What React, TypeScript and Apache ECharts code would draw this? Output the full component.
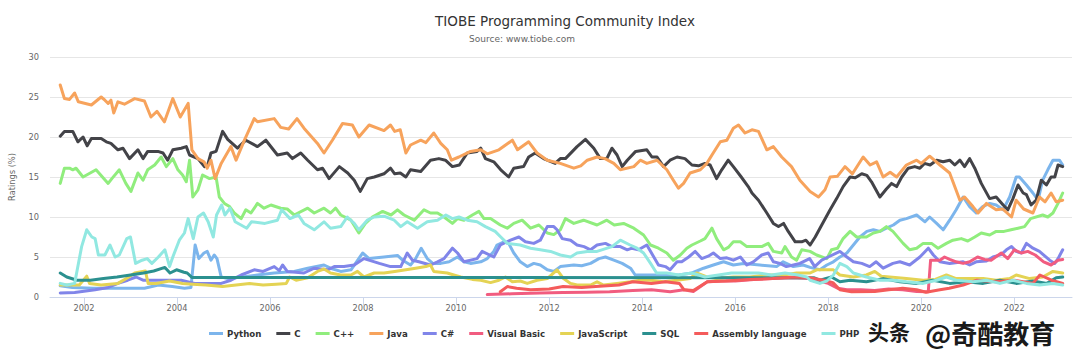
import React, { useEffect, useRef } from "react";
import * as echarts from "echarts";

const seriesNames = ["Python", "C", "C++", "Java", "C#", "Visual Basic", "JavaScript", "SQL", "Assembly language", "PHP"];
const colors = ["#7cb5ec", "#434348", "#90ed7d", "#f7a35c", "#8085e9", "#f15c80", "#e4d354", "#2b908f", "#f45b5b", "#91e8e1"];
const yearTicks = [2002, 2004, 2006, 2008, 2010, 2012, 2014, 2016, 2018, 2020, 2022];
const ratingTicks = [0, 5, 10, 15, 20, 25, 30];

const python: [number, number][] = [[2001.49,1.4],[2001.75,1.2],[2002.2,1.1],[2002.9,1.1],[2003.3,1.1],[2003.6,1.5],[2003.9,1.3],[2004.16,1.1],[2004.30,1.2],[2004.39,6.5],[2004.47,4.8],[2004.58,5.5],[2004.65,5.7],[2004.73,4.6],[2004.80,5.25],[2004.86,4.8],[2004.95,2.5],[2005.1,2.3],[2005.4,2.5],[2005.73,2.75],[2006.09,3.0],[2006.52,3.2],[2006.81,3.6],[2007.16,4.0],[2007.30,3.6],[2007.52,3.2],[2007.74,3.4],[2007.86,4.4],[2007.99,5.5],[2008.13,4.8],[2008.45,5.0],[2008.74,5.2],[2008.85,4.6],[2009.02,4.0],[2009.13,4.8],[2009.25,6.1],[2009.38,4.8],[2009.50,4.2],[2009.67,4.2],[2009.85,4.4],[2010.03,5.0],[2010.17,4.4],[2010.31,4.2],[2010.53,4.4],[2010.67,4.8],[2010.81,5.7],[2010.88,6.5],[2011.03,6.9],[2011.13,6.7],[2011.24,5.5],[2011.38,4.4],[2011.53,3.8],[2011.67,4.2],[2011.81,4.0],[2011.96,3.4],[2012.10,3.2],[2012.24,3.8],[2012.53,4.0],[2012.70,3.9],[2012.89,4.2],[2013.07,4.8],[2013.21,5.0],[2013.39,4.6],[2013.57,4.2],[2013.75,3.6],[2013.85,2.75],[2014.10,2.75],[2014.50,2.75],[2014.78,2.75],[2015.07,3.0],[2015.32,3.6],[2015.53,4.0],[2015.75,4.4],[2015.96,4.0],[2016.18,4.2],[2016.53,4.0],[2016.89,3.8],[2017.03,4.4],[2017.25,3.8],[2017.46,4.0],[2017.61,3.7],[2017.82,3.4],[2017.97,4.0],[2018.11,4.4],[2018.25,5.0],[2018.40,5.5],[2018.54,6.5],[2018.68,7.5],[2018.83,8.2],[2018.97,8.4],[2019.11,8.2],[2019.25,8.6],[2019.40,9.0],[2019.54,9.6],[2019.68,9.8],[2019.90,10.25],[2020.08,9.4],[2020.18,10.0],[2020.33,9.2],[2020.47,8.4],[2020.61,9.6],[2020.75,10.9],[2020.90,12.5],[2021.04,11.3],[2021.18,10.5],[2021.32,11.3],[2021.47,11.7],[2021.61,11.5],[2021.76,10.9],[2021.90,12.5],[2022.04,15.0],[2022.11,15.0],[2022.26,14.0],[2022.40,13.0],[2022.51,12.1],[2022.61,14.6],[2022.72,15.9],[2022.83,17.1],[2022.97,17.1],[2023.04,16.5]];

const cLang: [number, number][] = [[2001.49,20.1],[2001.58,20.7],[2001.76,20.7],[2001.87,19.4],[2001.98,20.0],[2002.07,18.9],[2002.16,19.8],[2002.37,19.8],[2002.48,19.4],[2002.58,19.2],[2002.73,18.4],[2002.84,18.6],[2002.98,17.3],[2003.16,18.4],[2003.27,17.3],[2003.37,18.2],[2003.59,18.2],[2003.70,18.0],[2003.80,17.1],[2003.91,18.4],[2004.09,18.6],[2004.20,18.8],[2004.27,17.75],[2004.45,17.3],[2004.59,16.3],[2004.66,16.5],[2004.73,18.0],[2004.84,18.2],[2004.98,20.7],[2005.09,19.7],[2005.30,18.6],[2005.48,19.6],[2005.73,18.8],[2005.91,19.6],[2006.16,17.75],[2006.37,18.0],[2006.48,17.3],[2006.66,18.0],[2006.81,17.1],[2007.02,15.9],[2007.13,16.1],[2007.27,14.8],[2007.49,16.3],[2007.67,15.5],[2007.81,14.6],[2007.94,13.2],[2008.09,14.8],[2008.24,15.0],[2008.45,15.4],[2008.59,16.1],[2008.68,15.4],[2008.80,15.5],[2008.92,15.0],[2009.02,15.9],[2009.24,15.7],[2009.45,17.1],[2009.63,17.3],[2009.77,17.1],[2009.92,16.3],[2010.07,16.5],[2010.24,18.0],[2010.45,18.2],[2010.53,18.6],[2010.63,17.3],[2010.81,16.9],[2010.96,15.9],[2011.13,15.0],[2011.24,16.1],[2011.45,16.3],[2011.56,17.5],[2011.70,18.0],[2011.88,17.3],[2012.13,16.7],[2012.24,17.3],[2012.35,17.3],[2012.60,18.8],[2012.78,19.7],[2012.96,18.6],[2013.10,17.3],[2013.24,17.3],[2013.35,18.6],[2013.46,17.75],[2013.57,16.3],[2013.68,17.1],[2013.86,18.2],[2014.10,18.4],[2014.21,17.5],[2014.32,17.5],[2014.46,16.3],[2014.60,17.1],[2014.75,17.5],[2014.92,17.3],[2015.07,16.5],[2015.21,16.4],[2015.35,16.7],[2015.46,16.5],[2015.60,14.8],[2015.71,15.9],[2015.85,17.1],[2015.96,16.3],[2016.13,15.0],[2016.28,13.8],[2016.36,13.0],[2016.50,12.1],[2016.68,10.5],[2016.82,9.2],[2016.93,8.8],[2017.04,9.2],[2017.14,8.2],[2017.29,6.9],[2017.43,6.9],[2017.52,7.1],[2017.61,6.5],[2017.72,7.5],[2017.86,9.0],[2018.04,10.9],[2018.18,12.3],[2018.32,13.8],[2018.47,15.0],[2018.58,14.9],[2018.72,15.4],[2018.83,15.2],[2018.93,14.4],[2019.11,12.5],[2019.25,13.5],[2019.36,14.2],[2019.47,13.8],[2019.58,15.0],[2019.72,16.1],[2019.86,16.3],[2019.97,16.1],[2020.07,16.7],[2020.19,16.5],[2020.33,17.1],[2020.47,16.9],[2020.61,17.1],[2020.72,16.5],[2020.83,17.1],[2020.93,16.3],[2021.04,17.3],[2021.15,16.1],[2021.29,14.2],[2021.47,12.3],[2021.61,12.5],[2021.76,11.5],[2021.86,10.9],[2021.97,12.3],[2022.08,14.0],[2022.19,13.0],[2022.26,12.8],[2022.36,11.5],[2022.47,12.1],[2022.58,14.6],[2022.69,14.0],[2022.79,15.0],[2022.87,15.0],[2022.94,16.5],[2023.04,16.3]];

const cpp: [number, number][] = [[2001.49,14.2],[2001.58,16.1],[2001.69,16.1],[2001.76,15.9],[2001.83,16.1],[2001.98,15.0],[2002.26,15.9],[2002.52,14.2],[2002.60,14.8],[2002.76,15.9],[2002.90,14.2],[2003.01,13.2],[2003.16,15.5],[2003.27,14.6],[2003.37,15.9],[2003.52,16.5],[2003.66,17.5],[2003.77,16.3],[2003.91,17.3],[2004.02,15.9],[2004.12,15.25],[2004.20,14.4],[2004.27,17.1],[2004.34,12.5],[2004.45,13.4],[2004.55,15.25],[2004.70,14.8],[2004.84,15.0],[2004.91,12.5],[2005.02,11.7],[2005.13,11.3],[2005.23,10.5],[2005.38,9.8],[2005.48,10.9],[2005.59,10.5],[2005.73,11.7],[2005.87,11.1],[2006.02,11.5],[2006.23,11.1],[2006.37,11.0],[2006.52,10.25],[2006.81,11.1],[2006.95,10.5],[2007.16,11.1],[2007.30,10.5],[2007.41,11.1],[2007.52,10.25],[2007.74,9.6],[2007.91,8.0],[2008.05,9.2],[2008.20,10.0],[2008.42,10.7],[2008.60,10.25],[2008.74,10.9],[2008.88,10.25],[2009.10,9.6],[2009.31,10.9],[2009.45,10.5],[2009.60,10.5],[2009.74,10.0],[2009.92,9.2],[2010.03,9.8],[2010.17,9.6],[2010.35,10.25],[2010.49,10.7],[2010.60,9.8],[2010.74,9.8],[2010.95,9.0],[2011.10,8.6],[2011.24,9.2],[2011.42,9.6],[2011.60,8.6],[2011.78,9.0],[2011.96,8.0],[2012.10,7.8],[2012.24,8.4],[2012.35,9.8],[2012.53,9.2],[2012.74,9.6],[2013.03,9.0],[2013.24,9.6],[2013.40,9.0],[2013.60,9.2],[2013.82,8.6],[2014.03,7.75],[2014.18,6.5],[2014.35,6.1],[2014.53,5.5],[2014.67,4.6],[2014.82,5.25],[2014.96,6.1],[2015.07,6.5],[2015.25,7.0],[2015.35,7.3],[2015.50,8.6],[2015.60,7.3],[2015.75,5.9],[2015.85,6.2],[2015.96,6.9],[2016.11,6.9],[2016.25,6.3],[2016.39,6.3],[2016.57,6.3],[2016.71,6.7],[2016.82,5.7],[2017.00,5.5],[2017.07,6.3],[2017.21,5.0],[2017.32,4.6],[2017.43,5.9],[2017.61,5.7],[2017.75,5.25],[2017.97,4.8],[2018.07,5.9],[2018.20,6.1],[2018.32,7.3],[2018.47,8.2],[2018.61,7.5],[2018.82,7.5],[2018.97,8.0],[2019.11,8.2],[2019.25,8.8],[2019.39,8.2],[2019.61,6.7],[2019.75,5.9],[2019.90,6.1],[2020.04,6.7],[2020.22,6.7],[2020.36,6.1],[2020.54,6.7],[2020.68,7.1],[2020.86,7.3],[2021.00,7.0],[2021.15,7.5],[2021.29,8.0],[2021.47,7.75],[2021.61,8.2],[2021.78,8.2],[2021.93,8.4],[2022.08,8.6],[2022.22,8.8],[2022.35,9.8],[2022.61,10.25],[2022.72,10.0],[2022.83,10.5],[2022.94,11.7],[2023.04,13.0]];

const java: [number, number][] = [[2001.49,26.5],[2001.58,24.8],[2001.69,24.7],[2001.80,25.5],[2001.88,24.4],[2002.16,24.0],[2002.37,25.0],[2002.45,24.6],[2002.52,24.2],[2002.58,24.6],[2002.64,23.0],[2002.73,24.4],[2002.87,24.1],[2003.09,24.8],[2003.30,24.5],[2003.44,22.5],[2003.57,23.2],[2003.73,21.9],[2003.91,24.8],[2004.07,22.5],[2004.24,24.2],[2004.32,18.4],[2004.45,17.3],[2004.58,16.9],[2004.65,16.1],[2004.73,17.1],[2004.82,14.8],[2004.95,16.7],[2005.16,18.8],[2005.27,17.1],[2005.45,19.6],[2005.66,22.3],[2005.73,21.9],[2006.09,22.3],[2006.23,21.2],[2006.40,21.0],[2006.58,22.3],[2006.73,21.1],[2007.02,19.2],[2007.16,18.0],[2007.34,19.6],[2007.56,21.7],[2007.77,21.5],[2007.91,20.0],[2008.13,21.5],[2008.45,20.8],[2008.59,21.5],[2008.68,20.7],[2008.80,20.9],[2008.92,18.0],[2009.02,19.0],[2009.24,19.6],[2009.35,19.3],[2009.52,20.5],[2009.67,19.2],[2009.81,18.4],[2009.90,17.1],[2010.06,17.5],[2010.31,18.2],[2010.53,18.4],[2010.67,17.9],[2010.92,18.4],[2011.21,19.6],[2011.32,18.4],[2011.56,19.4],[2011.74,18.0],[2011.96,17.1],[2012.24,16.7],[2012.53,16.1],[2012.68,16.4],[2012.82,17.1],[2013.03,17.5],[2013.20,17.3],[2013.39,16.7],[2013.53,15.9],[2013.82,16.3],[2013.96,17.1],[2014.10,16.7],[2014.32,17.1],[2014.53,15.9],[2014.67,14.6],[2014.78,13.6],[2014.89,14.2],[2015.03,15.5],[2015.25,15.9],[2015.39,16.7],[2015.50,17.75],[2015.68,19.4],[2015.82,19.6],[2015.96,21.1],[2016.07,21.5],[2016.21,20.5],[2016.36,20.9],[2016.50,20.7],[2016.68,18.4],[2016.82,18.8],[2017.00,17.5],[2017.21,16.3],[2017.39,14.6],[2017.61,13.2],[2017.79,12.5],[2017.93,13.4],[2018.04,15.0],[2018.20,15.1],[2018.36,16.3],[2018.52,15.4],[2018.75,17.5],[2018.90,16.5],[2019.04,16.9],[2019.18,15.0],[2019.33,15.6],[2019.47,15.0],[2019.68,16.5],[2019.90,17.1],[2020.00,16.7],[2020.18,17.6],[2020.40,16.5],[2020.61,15.5],[2020.83,12.1],[2020.93,12.5],[2021.11,11.3],[2021.22,10.5],[2021.40,11.7],[2021.61,10.9],[2021.75,11.0],[2021.94,10.0],[2022.04,12.1],[2022.20,11.0],[2022.40,10.5],[2022.54,12.5],[2022.66,11.9],[2022.79,13.0],[2022.90,11.9],[2023.04,12.1]];

const csharp: [number, number][] = [[2001.49,0.5],[2001.80,0.55],[2002.24,0.9],[2002.52,1.2],[2002.73,1.7],[2002.94,2.1],[2003.12,2.5],[2003.27,2.1],[2003.80,2.1],[2004.09,2.1],[2004.38,1.7],[2004.95,1.7],[2005.16,2.1],[2005.38,2.75],[2005.66,3.4],[2005.85,3.2],[2006.09,3.8],[2006.20,3.3],[2006.27,4.0],[2006.37,3.2],[2006.73,3.0],[2006.95,3.6],[2007.24,3.4],[2007.38,3.8],[2007.59,3.8],[2007.81,4.0],[2008.02,4.8],[2008.35,4.2],[2008.59,3.8],[2008.81,3.8],[2008.95,5.5],[2009.06,4.6],[2009.20,4.4],[2009.45,4.0],[2009.60,4.4],[2009.74,4.8],[2009.92,6.1],[2010.03,5.5],[2010.17,4.4],[2010.45,4.8],[2010.56,5.7],[2010.81,5.0],[2010.95,6.5],[2011.17,7.1],[2011.35,7.5],[2011.49,6.9],[2011.67,6.7],[2011.81,7.1],[2011.96,8.8],[2012.10,8.8],[2012.17,8.4],[2012.28,7.3],[2012.46,7.1],[2012.60,6.5],[2012.75,6.3],[2012.89,5.9],[2013.03,6.5],[2013.21,6.7],[2013.35,6.3],[2013.53,6.3],[2013.68,5.9],[2013.78,6.1],[2013.92,5.9],[2014.10,6.5],[2014.25,5.0],[2014.35,4.0],[2014.50,3.8],[2014.60,3.4],[2014.75,4.4],[2014.85,4.4],[2015.00,5.0],[2015.14,5.7],[2015.28,4.8],[2015.42,5.1],[2015.53,5.5],[2015.68,4.8],[2015.82,4.9],[2015.96,4.6],[2016.11,5.0],[2016.25,4.0],[2016.39,4.4],[2016.57,5.25],[2016.71,5.5],[2016.82,4.4],[2016.96,4.2],[2017.10,3.8],[2017.25,4.0],[2017.39,4.2],[2017.60,4.8],[2017.71,3.8],[2017.86,4.6],[2018.00,5.0],[2018.25,5.7],[2018.40,5.0],[2018.54,4.4],[2018.72,4.2],[2018.89,3.8],[2019.03,4.4],[2019.18,3.6],[2019.39,4.2],[2019.54,4.4],[2019.75,4.0],[2019.97,5.0],[2020.15,6.1],[2020.26,5.25],[2020.40,4.4],[2020.61,4.2],[2020.90,4.4],[2021.04,4.0],[2021.18,4.4],[2021.40,4.5],[2021.54,5.0],[2021.72,5.3],[2021.83,5.9],[2021.94,6.3],[2022.04,5.7],[2022.15,5.5],[2022.26,6.7],[2022.40,6.1],[2022.54,5.7],[2022.76,4.6],[2022.87,4.2],[2022.94,4.8],[2023.04,5.9]];

const visualBasic: [number, number][] = [[2010.67,0.3],[2011.2,0.4],[2011.8,0.5],[2012.3,0.55],[2012.8,0.6],[2013.3,0.65],[2013.8,0.8],[2014.2,0.9],[2014.6,0.65],[2014.9,0.9],[2015.1,0.7],[2015.4,1.9],[2015.7,2.0],[2016.0,2.0],[2016.4,2.2],[2016.8,2.3],[2017.2,2.4],[2017.6,2.3],[2017.8,2.0],[2018.0,1.7],[2018.2,1.1],[2018.4,0.9],[2018.7,0.9],[2019.0,0.8],[2019.3,1.0],[2019.6,0.9],[2019.9,0.7],[2020.15,0.65],[2020.2,4.6],[2020.40,4.6],[2020.50,5.0],[2020.61,4.7],[2020.75,4.4],[2020.90,4.2],[2021.04,4.4],[2021.21,5.0],[2021.36,4.7],[2021.50,4.6],[2021.72,5.5],[2021.86,4.8],[2022.00,5.9],[2022.15,5.5],[2022.29,5.7],[2022.45,5.25],[2022.63,4.4],[2022.79,4.0],[2022.94,4.6],[2023.04,4.7]];

const javascript: [number, number][] = [[2001.49,1.5],[2001.90,1.5],[2002.06,2.6],[2002.12,1.7],[2002.37,1.5],[2002.73,1.7],[2002.94,2.4],[2003.09,3.0],[2003.32,3.25],[2003.38,1.7],[2003.55,1.7],[2003.84,2.0],[2004.12,1.7],[2004.34,1.6],[2004.62,1.5],[2004.98,1.3],[2005.27,1.5],[2005.56,1.7],[2005.85,1.5],[2006.13,1.6],[2006.35,1.7],[2006.42,2.5],[2006.56,2.1],[2006.81,2.4],[2007.02,3.2],[2007.16,3.5],[2007.30,3.0],[2007.52,2.75],[2007.74,2.75],[2007.88,3.2],[2008.02,2.5],[2008.24,3.0],[2008.45,3.0],[2008.68,3.2],[2008.92,3.4],[2009.13,3.6],[2009.35,3.8],[2009.45,4.0],[2009.52,3.2],[2009.81,3.0],[2009.95,2.75],[2010.10,2.5],[2010.35,2.2],[2010.53,2.1],[2010.74,1.8],[2010.92,2.1],[2011.06,2.5],[2011.21,1.9],[2011.38,2.0],[2011.53,1.7],[2011.74,2.1],[2011.96,2.3],[2012.17,3.4],[2012.31,2.3],[2012.46,1.7],[2012.60,1.5],[2012.89,1.5],[2013.03,1.9],[2013.17,1.5],[2013.46,1.7],[2013.75,1.9],[2013.96,2.1],[2014.18,2.1],[2014.46,1.9],[2014.75,2.1],[2015.03,2.3],[2015.17,3.0],[2015.39,2.5],[2015.60,2.3],[2015.96,2.5],[2016.32,2.5],[2016.68,2.75],[2017.04,2.75],[2017.32,3.0],[2017.61,3.0],[2017.75,3.4],[2018.11,3.4],[2018.25,2.75],[2018.54,2.5],[2018.82,2.75],[2019.00,3.2],[2019.14,2.6],[2019.32,2.5],[2019.68,2.3],[2020.04,2.1],[2020.30,2.2],[2020.54,2.75],[2020.75,2.3],[2021.04,2.3],[2021.33,2.3],[2021.61,2.1],[2021.90,2.3],[2022.04,2.75],[2022.33,2.3],[2022.61,2.5],[2022.83,3.2],[2023.04,3.0]];

const sql: [number, number][] = [[2001.49,3.0],[2001.63,2.5],[2001.85,2.1],[2002.14,2.1],[2002.42,2.3],[2002.71,2.5],[2003.00,2.75],[2003.28,3.0],[2003.50,3.25],[2003.74,3.7],[2003.85,3.0],[2003.99,3.4],[2004.15,3.1],[2004.22,3.0],[2004.32,2.45],[2017.70,2.4],[2017.82,2.1],[2018.07,2.5],[2018.25,1.9],[2018.47,2.1],[2018.82,1.9],[2019.18,2.3],[2019.54,1.9],[2019.90,1.7],[2020.25,2.1],[2020.61,1.7],[2020.97,1.9],[2021.33,1.7],[2021.69,2.1],[2022.04,1.7],[2022.40,2.0],[2022.70,1.7],[2022.90,2.4],[2023.04,2.5]];

const assembly: [number, number][] = [[2010.95,0.65],[2011.10,1.3],[2011.30,1.1],[2011.60,0.9],[2012.0,1.0],[2012.3,1.3],[2012.7,1.2],[2013.0,1.3],[2013.5,1.5],[2013.8,1.9],[2014.2,1.7],[2014.5,1.9],[2014.8,1.7],[2014.9,0.9],[2015.1,0.8],[2015.4,1.9],[2015.8,2.0],[2016.3,2.2],[2016.8,2.3],[2017.3,2.5],[2017.6,2.4],[2017.9,2.1],[2018.1,1.8],[2018.25,0.9],[2018.5,0.65],[2019.0,0.7],[2019.3,0.9],[2019.6,1.1],[2019.9,0.9],[2020.1,0.6],[2020.4,0.9],[2020.6,1.1],[2020.9,1.5],[2021.2,2.1],[2021.6,1.9],[2022.0,2.1],[2022.4,1.7],[2022.55,2.75],[2022.8,2.1],[2023.04,1.7]];

const php: [number, number][] = [[2001.49,1.7],[2001.63,1.5],[2001.80,1.7],[2001.95,6.3],[2002.06,8.4],[2002.17,7.5],[2002.24,7.3],[2002.31,5.25],[2002.45,5.25],[2002.56,6.5],[2002.67,5.0],[2002.76,5.25],[2002.92,7.3],[2003.00,7.5],[2003.11,4.2],[2003.25,4.6],[2003.36,4.8],[2003.46,4.2],[2003.60,5.0],[2003.74,5.9],[2003.84,3.8],[2003.91,5.0],[2004.05,7.1],[2004.16,8.0],[2004.24,9.8],[2004.35,7.3],[2004.45,10.0],[2004.57,10.5],[2004.67,9.4],[2004.78,7.5],[2004.85,10.25],[2004.96,11.5],[2005.03,10.25],[2005.14,11.1],[2005.25,9.4],[2005.50,8.6],[2005.60,9.4],[2005.89,9.2],[2006.16,9.6],[2006.25,10.9],[2006.43,9.8],[2006.61,10.25],[2006.73,9.2],[2006.95,8.4],[2007.16,9.4],[2007.30,8.6],[2007.52,8.8],[2007.66,10.0],[2007.81,9.2],[2007.91,8.4],[2008.09,9.6],[2008.24,10.0],[2008.45,10.1],[2008.67,9.6],[2008.81,8.8],[2008.95,9.4],[2009.17,8.6],[2009.38,9.4],[2009.60,9.6],[2009.78,10.25],[2009.92,9.8],[2010.06,10.0],[2010.24,9.6],[2010.45,9.4],[2010.63,8.8],[2010.84,8.2],[2010.96,7.5],[2011.10,6.7],[2011.38,6.5],[2011.60,6.1],[2011.81,5.9],[2012.03,5.7],[2012.24,5.25],[2012.46,5.0],[2012.60,5.5],[2012.82,5.7],[2013.03,5.7],[2013.35,6.3],[2013.53,7.1],[2013.74,6.5],[2013.89,6.1],[2014.03,5.5],[2014.18,4.2],[2014.31,3.0],[2014.53,3.0],[2014.78,2.75],[2015.07,3.0],[2015.35,2.5],[2015.64,2.75],[2015.92,3.0],[2016.21,3.0],[2016.50,3.0],[2016.78,2.75],[2017.07,3.0],[2017.35,2.75],[2017.54,2.5],[2017.61,2.1],[2017.82,1.7],[2017.97,2.0],[2018.11,2.75],[2018.25,4.2],[2018.40,3.8],[2018.54,3.0],[2018.82,2.5],[2019.11,2.1],[2019.39,2.1],[2019.68,1.9],[2020.04,1.7],[2020.33,2.1],[2020.54,2.5],[2020.75,2.1],[2021.11,1.9],[2021.40,2.1],[2021.69,1.7],[2021.97,2.1],[2022.26,1.7],[2022.54,1.5],[2022.83,1.7],[2023.04,1.5]];

const allSeries = [python, cLang, cpp, java, csharp, visualBasic, javascript, sql, assembly, php];

const FONT = "'DejaVu Sans', 'Lucida Grande', sans-serif";

export default function App() {
  const ref = useRef<HTMLDivElement>(null);
  useEffect(() => {
    if (!ref.current) return;
    const chart = echarts.init(ref.current, undefined, { renderer: "svg" });
    chart.setOption({
      animation: false,
      color: colors,
      grid: { left: 49, right: 8, top: 57, bottom: 54, containLabel: false },
      graphic: [
        { type: "text", x: 565, y: 21, style: { text: "TIOBE Programming Community Index", fill: "#333333", font: `13.5px ${FONT}`, textAlign: "center", textVerticalAlign: "middle" } },
        { type: "text", x: 522, y: 39, style: { text: "Source: www.tiobe.com", fill: "#666666", font: `9px ${FONT}`, textAlign: "center", textVerticalAlign: "middle" } },
        { type: "text", x: 868, y: 331, z: 100, style: { text: "头条", fill: "#1a1a1a", stroke: "#ffffff", lineWidth: 2, font: `bold 21px 'Noto Sans CJK SC'`, textAlign: "left", textVerticalAlign: "middle" } },
        { type: "text", x: 925, y: 332, z: 100, style: { text: "@奇酷教育", fill: "#1a1a1a", stroke: "#ffffff", lineWidth: 2, font: `bold 26px 'Noto Sans CJK SC'`, textAlign: "left", textVerticalAlign: "middle" } },
      ],
      legend: {
        data: seriesNames,
        left: 209,
        top: 329,
        padding: 0,
        icon: "rect",
        itemWidth: 14,
        itemHeight: 3,
        itemGap: 15,
        textStyle: { fontFamily: FONT, fontSize: 8.6, fontWeight: "bold", color: "#333333", padding: [0, 0, 0, -1] },
      },
      xAxis: {
        type: "value",
        min: 2001.27,
        max: 2023.24,
        axisLine: { show: true, lineStyle: { color: "#ccd6eb", width: 1 } },
        axisTick: { show: true, length: 8, lineStyle: { color: "#ccd6eb" }, customValues: yearTicks },
        axisLabel: { customValues: yearTicks, color: "#666666", fontFamily: FONT, fontSize: 8.25, margin: 7, formatter: (v: number) => String(Math.round(v)) },
        splitLine: { show: false },
      },
      yAxis: {
        type: "value",
        min: ratingTicks[0],
        max: ratingTicks[ratingTicks.length - 1],
        interval: 5,
        name: "Ratings (%)",
        nameLocation: "middle",
        nameGap: 34,
        nameTextStyle: { color: "#666666", fontFamily: FONT, fontSize: 8.25 },
        axisLine: { show: false },
        axisTick: { show: false },
        axisLabel: { color: "#666666", fontFamily: FONT, fontSize: 8.25, margin: 11 },
        splitLine: { lineStyle: { color: "#e6e6e6", width: 1 } },
      },
      series: seriesNames.map((name, i) => ({
        name,
        type: "line",
        data: allSeries[i],
        showSymbol: false,
        symbol: "none",
        lineStyle: { width: 3, join: "round", cap: "round" },
        emphasis: { disabled: true },
      })),
    });
    return () => chart.dispose();
  }, []);
  return <div ref={ref} style={{ width: 1080, height: 351, position: "absolute", left: 0, top: 0 }} />;
}
